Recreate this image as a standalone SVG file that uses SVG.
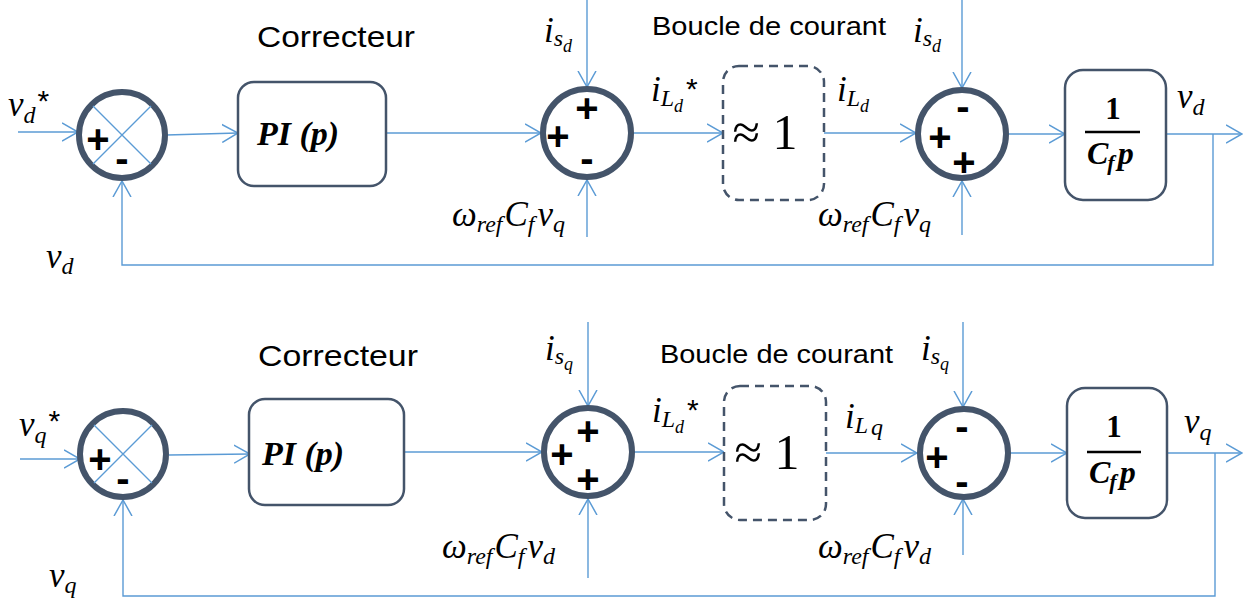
<svg xmlns="http://www.w3.org/2000/svg" width="1248" height="600" viewBox="0 0 1248 600">
<style>
.c{fill:none;stroke:#5B9BD5;stroke-width:1.4}
.a{marker-end:url(#ar)}
.sum{fill:#fff;stroke:#44546A;stroke-width:6}
.box{fill:#fff;stroke:#44546A;stroke-width:2.5}
.dash{fill:#fff;stroke:#44546A;stroke-width:2.5;stroke-dasharray:9 6}
.sg{font-family:"Liberation Sans",Arial,sans-serif;font-weight:bold;font-size:40px;fill:#000;text-anchor:middle}
.t{font-family:"Liberation Sans",Arial,sans-serif;fill:#000}
.m{font-family:"Liberation Serif","Times New Roman",serif;font-style:italic;font-size:35px;fill:#000}
.s{font-size:24px}
.ss{font-size:18px}
.st{font-family:"Liberation Sans",Arial,sans-serif;font-style:normal;font-size:30px}
.bm{font-family:"Liberation Serif","Times New Roman",serif;font-weight:bold;font-style:italic;fill:#000}
.bn{font-family:"Liberation Serif","Times New Roman",serif;font-weight:bold;fill:#000}
.ap{font-family:"Liberation Serif","Times New Roman",serif;font-size:50px;text-anchor:middle;fill:#000}
</style>
<defs>
<marker id="ar" markerUnits="userSpaceOnUse" viewBox="0 0 17 20" refX="16" refY="10" markerWidth="17" markerHeight="20" orient="auto">
<path d="M0,1 L16,10 L0,19" fill="none" stroke="#5B9BD5" stroke-width="1.5"/>
</marker>
</defs>
<rect width="1248" height="600" fill="#fff"/>

<g id="connectors">
<!-- top row -->
<path class="c a" d="M18,132 L78,132"/>
<path class="c a" d="M166,135 L238,133"/>
<path class="c a" d="M386,133 L541,133"/>
<path class="c a" d="M587,0 L587,87"/>
<path class="c a" d="M587,237 L587,180"/>
<path class="c a" d="M633,133 L723,133"/>
<path class="c a" d="M824,133 L916,133"/>
<path class="c a" d="M962,0 L962,88"/>
<path class="c a" d="M962,235 L962,181"/>
<path class="c a" d="M1008,134 L1065,134"/>
<path class="c a" d="M1166,134 L1242,134"/>
<path class="c a" d="M1213,134 L1213,265 L122,265 L122,181"/>
<!-- bottom row -->
<path class="c a" d="M20,459 L80,459"/>
<path class="c a" d="M169,455 L250,454"/>
<path class="c a" d="M404,452 L542,452"/>
<path class="c a" d="M588,322 L588,406"/>
<path class="c a" d="M588,578 L588,499"/>
<path class="c a" d="M634,452 L724,452"/>
<path class="c a" d="M826,453 L917,453"/>
<path class="c a" d="M963,322 L963,407"/>
<path class="c a" d="M963,555 L963,499"/>
<path class="c a" d="M1010,453 L1067,453"/>
<path class="c a" d="M1167,453 L1242,453"/>
<path class="c a" d="M1215,453 L1215,596 L123,596 L123,500"/>
</g>

<!-- top row nodes -->
<g id="sum1d">
<circle class="sum" cx="122" cy="135" r="43"/>
<path class="c" d="M93,106 L151,164 M151,106 L93,164"/>
<text class="sg" x="98" y="153">+</text>
<text class="sg" x="122" y="172">-</text>
</g>
<g id="pid">
<rect class="box" x="238" y="82" width="148" height="104" rx="16"/>
<text class="bm" x="257" y="145" font-size="34">PI <tspan class="bn">(</tspan>p<tspan class="bn">)</tspan></text>
</g>
<text class="t" x="257" y="47" font-size="30" textLength="158" lengthAdjust="spacingAndGlyphs">Correcteur</text>
<g id="sum2d">
<circle class="sum" cx="587" cy="133" r="44"/>
<text class="sg" x="587" y="122">+</text>
<text class="sg" x="558" y="150">+</text>
<text class="sg" x="587" y="172">-</text>
</g>
<g id="loopd">
<rect class="dash" x="723" y="66" width="101" height="134" rx="16"/>
<text class="ap" x="765" y="149">≈ 1</text>
</g>
<text class="t" x="652" y="35" font-size="25" textLength="234" lengthAdjust="spacingAndGlyphs">Boucle de courant</text>
<g id="sum3d">
<circle class="sum" cx="962" cy="134" r="44"/>
<text class="sg" x="963" y="120">-</text>
<text class="sg" x="940" y="151">+</text>
<text class="sg" x="964" y="176">+</text>
</g>
<g id="plantd">
<rect class="box" x="1065" y="70" width="101" height="130" rx="18"/>
<text class="bn" x="1113" y="119" font-size="31" text-anchor="middle">1</text>
<path d="M1085,132 L1140,132" stroke="#000" stroke-width="2.5"/>
<text class="bm" x="1087" y="164" font-size="32">C<tspan font-size="22" dy="6" dx="-1">f</tspan><tspan dy="-6" dx="3">p</tspan></text>
</g>

<!-- top labels -->
<text class="m" x="8" y="116">v<tspan class="s" dy="7">d</tspan><tspan class="st" dy="-12" dx="2">*</tspan></text>
<text class="m" x="46" y="268">v<tspan class="s" dy="6">d</tspan></text>
<text class="m" x="544" y="42">i<tspan class="s" dy="4">s</tspan><tspan class="ss" dy="6">d</tspan></text>
<text class="m" x="651" y="101">i<tspan class="s" dy="5">L</tspan><tspan class="ss" dy="6">d</tspan><tspan class="st" dy="-13" dx="3">*</tspan></text>
<text class="m" x="837" y="101">i<tspan class="s" dy="5">L</tspan><tspan class="ss" dy="6">d</tspan></text>
<text class="m" x="913" y="42">i<tspan class="s" dy="4">s</tspan><tspan class="ss" dy="6">d</tspan></text>
<text class="m" x="452" y="226">ω<tspan class="s" dy="6">ref</tspan><tspan dy="-6" dx="2">C</tspan><tspan class="s" dy="6">f</tspan><tspan dy="-6" dx="3">v</tspan><tspan class="s" dy="6">q</tspan></text>
<text class="m" x="818" y="226">ω<tspan class="s" dy="6">ref</tspan><tspan dy="-6" dx="2">C</tspan><tspan class="s" dy="6">f</tspan><tspan dy="-6" dx="3">v</tspan><tspan class="s" dy="6">q</tspan></text>
<text class="m" x="1177" y="108">v<tspan class="s" dy="7">d</tspan></text>

<!-- bottom row nodes -->
<g id="sum1q">
<circle class="sum" cx="123" cy="454" r="43"/>
<path class="c" d="M94,425 L152,483 M152,425 L94,483"/>
<text class="sg" x="100" y="473">+</text>
<text class="sg" x="123" y="492">-</text>
</g>
<g id="piq">
<rect class="box" x="249" y="399" width="155" height="106" rx="16"/>
<text class="bm" x="262" y="465" font-size="34">PI <tspan class="bn">(</tspan>p<tspan class="bn">)</tspan></text>
</g>
<text class="t" x="258" y="366" font-size="30" textLength="160" lengthAdjust="spacingAndGlyphs">Correcteur</text>
<g id="sum2q">
<circle class="sum" cx="588" cy="452" r="44"/>
<text class="sg" x="588" y="445">+</text>
<text class="sg" x="562" y="468">+</text>
<text class="sg" x="588" y="493">+</text>
</g>
<g id="loopq">
<rect class="dash" x="724" y="386" width="102" height="134" rx="16"/>
<text class="ap" x="767" y="469">≈ 1</text>
</g>
<text class="t" x="660" y="363" font-size="25" textLength="233" lengthAdjust="spacingAndGlyphs">Boucle de courant</text>
<g id="sum3q">
<circle class="sum" cx="964" cy="453" r="44"/>
<text class="sg" x="962" y="440">-</text>
<text class="sg" x="937" y="471">+</text>
<text class="sg" x="962" y="495">-</text>
</g>
<g id="plantq">
<rect class="box" x="1067" y="388" width="100" height="130" rx="18"/>
<text class="bn" x="1114" y="437" font-size="31" text-anchor="middle">1</text>
<path d="M1087,452 L1141,452" stroke="#000" stroke-width="2.5"/>
<text class="bm" x="1089" y="483" font-size="32">C<tspan font-size="22" dy="6" dx="-1">f</tspan><tspan dy="-6" dx="3">p</tspan></text>
</g>

<!-- bottom labels -->
<text class="m" x="19" y="436">v<tspan class="s" dy="7">q</tspan><tspan class="st" dy="-12" dx="2">*</tspan></text>
<text class="m" x="49" y="587">v<tspan class="s" dy="6">q</tspan></text>
<text class="m" x="545" y="360">i<tspan class="s" dy="4">s</tspan><tspan class="ss" dy="6">q</tspan></text>
<text class="m" x="652" y="422">i<tspan class="s" dy="5">L</tspan><tspan class="ss" dy="6">d</tspan><tspan class="st" dy="-13" dx="3">*</tspan></text>
<text class="m" x="845" y="428">i<tspan class="s" dy="5">L</tspan><tspan class="s" dy="2" dx="3">q</tspan></text>
<text class="m" x="921" y="360">i<tspan class="s" dy="4">s</tspan><tspan class="ss" dy="6">q</tspan></text>
<text class="m" x="442" y="558">ω<tspan class="s" dy="6">ref</tspan><tspan dy="-6" dx="2">C</tspan><tspan class="s" dy="6">f</tspan><tspan dy="-6" dx="3">v</tspan><tspan class="s" dy="6">d</tspan></text>
<text class="m" x="818" y="558">ω<tspan class="s" dy="6">ref</tspan><tspan dy="-6" dx="2">C</tspan><tspan class="s" dy="6">f</tspan><tspan dy="-6" dx="3">v</tspan><tspan class="s" dy="6">d</tspan></text>
<text class="m" x="1184" y="433">v<tspan class="s" dy="7">q</tspan></text>
</svg>
